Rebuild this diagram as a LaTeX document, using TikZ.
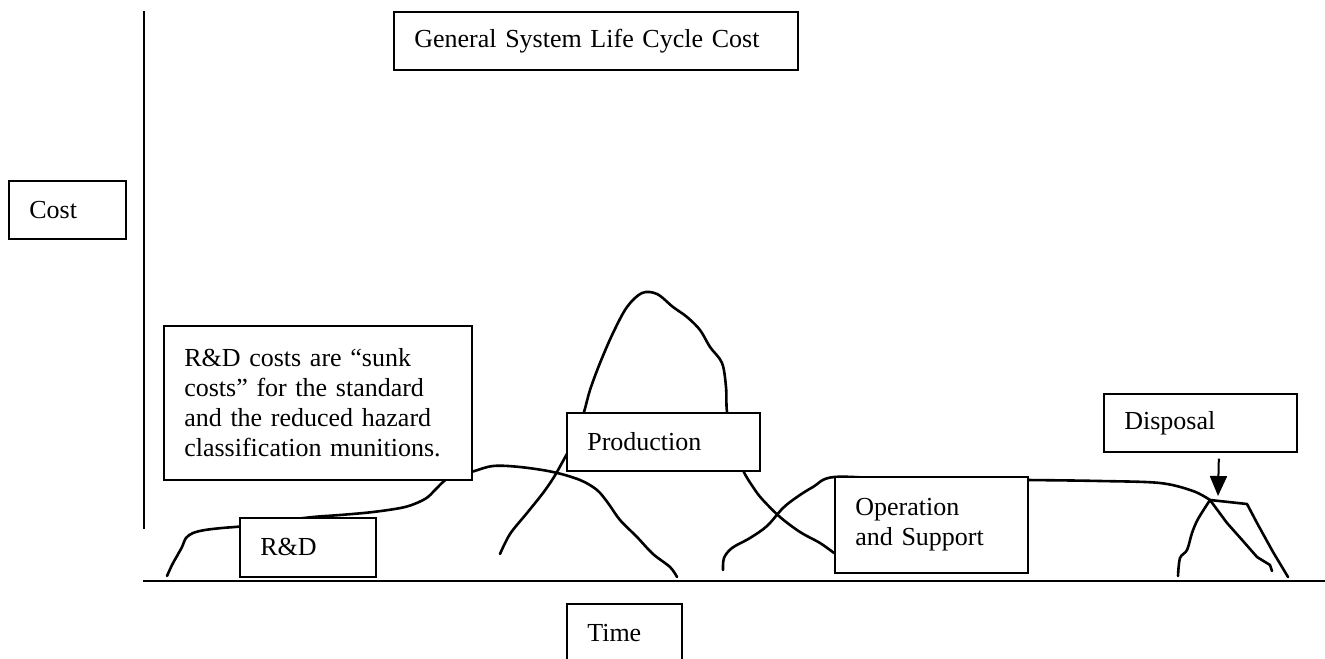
\documentclass[tikz,border=0pt]{standalone}
\usepackage{fontspec}
\setmainfont{Liberation Serif}
\usetikzlibrary{arrows.meta}
\begin{document}
\begin{tikzpicture}[x=0.5pt,y=-0.5pt,
  box/.style={draw, line width=0.8pt, fill=white, anchor=north west,
    inner xsep=10.25pt, inner ysep=0pt, align=left,
    font=\fontsize{13}{15}\selectfont},
  axis/.style={line width=1pt},
  curve/.style={line width=1.3pt, line join=round, line cap=round},
  pointer/.style={line width=1pt, -{Triangle[width=8.5pt,length=10pt]}}]

\useasboundingbox (0,0) rectangle (1325,658);
\clip (0,0) rectangle (1325,658);

% axes
\coordinate (ytop) at (144,11);
\coordinate (ybot) at (144,529);
\coordinate (xleft) at (143,581);
\coordinate (xright) at (1325,581);
\draw[axis] (ytop) -- (ybot);
\draw[axis] (xleft) -- (xright);

% R&D cost curve, running on into the falling edge
\draw[curve] plot[smooth, tension=0.55] coordinates {
  (167,576) (172,565) (177,556) (182,547) (186,538) (193,533) (205,530)
  (222,528) (245,526) (280,521) (313,517) (340,515) (373,512) (405,507)
  (425,499) (435,490) (443,482) (452,476) (471,472) (493,466) (520,467)
  (553,472) (580,480) (597,490) (608,503) (620,520) (637,537) (653,554)
  (670,567) (677,577)};

% production cost peak
\draw[curve] plot[smooth, tension=0.55] coordinates {
  (500,554) (510,534) (527,513) (543,493) (554,477) (563,461) (568,452)
  (576,435) (584,412) (590,390) (600,363) (613,333) (627,307) (642,293)
  (657,294) (673,307) (687,317) (700,330) (710,347) (722,363) (726,387)
  (727,412) (733,440) (743,470) (753,487) (762,499) (780,517) (800,532)
  (820,543) (834,553)};

% operation and support cost plateau
\draw[curve] plot[smooth, tension=0.55] coordinates {
  (723,570) (724,558) (732,548) (750,538) (767,526) (783,508) (797,497)
  (813,487) (834,477) (900,479) (1027,480) (1100,481) (1160,483)
  (1193,491) (1210,500)};
\draw[curve] (1210,500) -- (1247,504) -- (1257,523) -- (1273,552) -- (1288,577);

% disposal cost peak
\coordinate (dpeak) at (1210,500);
\draw[curve] plot[smooth, tension=0.55] coordinates {
  (1178,576) (1180,558) (1187,550) (1192,533) (1198,519) (1210,500)};
\draw[curve] (dpeak) -- (1227,523) -- (1243,541) -- (1257,557) -- (1270,565) -- (1272,571);

% labelled boxes
\node[box, minimum width=202pt, text width=181.5pt, minimum height=29pt]
  (title) at (393,11) {General System Life Cycle Cost};
\node[box, minimum width=58.5pt, text width=38pt, minimum height=29pt]
  (cost) at (8,180) {Cost};
\node[box, minimum width=154pt, text width=133.5pt, minimum height=77pt]
  (sunk) at (163,325) {R\&D costs are “sunk\\costs” for the standard\\and the reduced hazard\\classification munitions.};
\node[box, minimum width=68pt, text width=47.5pt, minimum height=29.5pt]
  (rd) at (239,517) {R\&D};
\node[box, minimum width=96.5pt, text width=76pt, minimum height=29pt]
  (prod) at (566,412) {Production};
\node[box, minimum width=96.5pt, text width=76pt, minimum height=48pt]
  (ops) at (834,476) {Operation\\and Support};
\node[box, minimum width=96.5pt, text width=76pt, minimum height=29pt]
  (disp) at (1103,393) {Disposal};
\node[box, minimum width=57.5pt, text width=37pt, minimum height=29pt]
  (time) at (566,603) {Time};

% pointer from the disposal label
\coordinate (dtip) at (1218,496);
\draw[pointer] ([xshift=9.25pt,yshift=-3pt]disp.south) -- (dtip);

\end{tikzpicture}
\end{document}
